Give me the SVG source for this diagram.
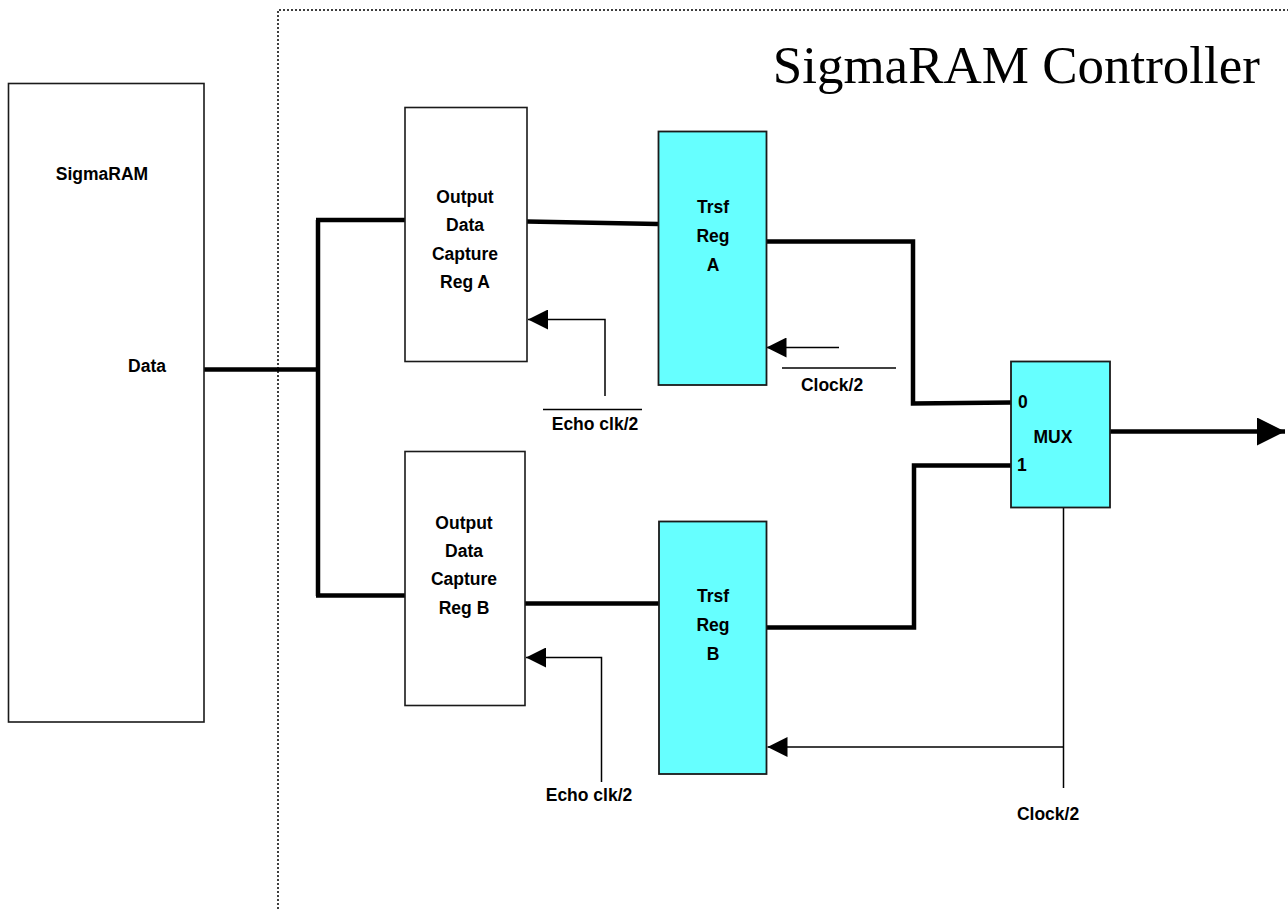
<svg xmlns="http://www.w3.org/2000/svg" width="1288" height="909" viewBox="0 0 1288 909">
<style>
.box{fill:#fff;stroke:#1a1a1a;stroke-width:1.6}
.reg{fill:#66ffff;stroke:#1a1a1a;stroke-width:1.8}
.lbl{font-family:"Liberation Sans",Arial,sans-serif;font-weight:bold;font-size:17.5px;fill:#000;text-anchor:middle}
.thick{fill:none;stroke:#000;stroke-width:4.5;stroke-linejoin:miter}
.thin{fill:none;stroke:#000;stroke-width:1.5}
.dot{fill:none;stroke:#000;stroke-width:1.5;stroke-dasharray:2,2}
</style>
<defs>
<marker id="ah" markerUnits="userSpaceOnUse" markerWidth="20" markerHeight="20" refX="20" refY="10" orient="auto">
<path d="M0,0 L20,10 L0,20 Z" fill="#000"/>
</marker>
<marker id="ahBig" markerUnits="userSpaceOnUse" markerWidth="28" markerHeight="28" refX="28" refY="14" orient="auto">
<path d="M0,0 L28,14 L0,28 Z" fill="#000"/>
</marker>
</defs>
<rect width="1288" height="909" fill="#fff"/>
<g id="controller-boundary">
<path class="dot" d="M278,909 L278,10 L1288,10"/>
<text x="1260" y="83" font-family="'Liberation Serif','Times New Roman',serif" font-size="53" text-anchor="end" fill="#000">SigmaRAM Controller</text>
</g>
<g id="connectors">
<path class="thick" d="M204,369.5 L318,369.5"/>
<path class="thick" d="M318,220 L318,596"/>
<path class="thick" d="M316,220 L405,220"/>
<path class="thick" d="M316,595.5 L405,595.5"/>
<path class="thick" d="M527,221.5 L658,224"/>
<path class="thick" d="M525,603.5 L659,603.5"/>
<path class="thick" d="M767,241.5 L913,241.5 L913,403.5 L1011,402.5"/>
<path class="thick" d="M767,627.5 L914,627.5 L914,465.5 L1011,465.5"/>
<path class="thick" d="M1110,431.5 L1285,431.5" marker-end="url(#ahBig)"/>
<path class="thin" d="M605,396 L605,319.5 L528,319.5" marker-end="url(#ah)"/>
<path class="thin" d="M543,409.5 L642,409.5"/>
<path class="thin" d="M601.5,782 L601.5,657.5 L526,657.5" marker-end="url(#ah)"/>
<path class="thin" d="M839,347.5 L766.5,347.5" marker-end="url(#ah)"/>
<path class="thin" d="M782,368 L896,368"/>
<path class="thin" d="M1063.5,507 L1063.5,788"/>
<path class="thin" d="M1063.5,747 L767.5,747" marker-end="url(#ah)"/>
<text class="lbl" x="595" y="430">Echo clk/2</text>
<text class="lbl" x="589" y="801">Echo clk/2</text>
<text class="lbl" x="832" y="391">Clock/2</text>
<text class="lbl" x="1048" y="820">Clock/2</text>
</g>
<g id="sigmaram">
<rect class="box" x="8.5" y="83.5" width="195.5" height="638.5"/>
<text class="lbl" x="102" y="180">SigmaRAM</text>
<text class="lbl" x="147" y="372">Data</text>
</g>
<g id="capture-reg-a">
<rect class="box" x="405" y="107.5" width="122" height="254"/>
<text class="lbl" x="465" y="203">Output</text>
<text class="lbl" x="465" y="231">Data</text>
<text class="lbl" x="465" y="259.5">Capture</text>
<text class="lbl" x="465" y="288">Reg A</text>
</g>
<g id="capture-reg-b">
<rect class="box" x="405" y="451.5" width="120" height="254"/>
<text class="lbl" x="464" y="529">Output</text>
<text class="lbl" x="464" y="557">Data</text>
<text class="lbl" x="464" y="585">Capture</text>
<text class="lbl" x="464" y="614">Reg B</text>
</g>
<g id="trsf-reg-a">
<rect class="reg" x="658.5" y="131.5" width="108" height="253.5"/>
<text class="lbl" x="713" y="213">Trsf</text>
<text class="lbl" x="713" y="242">Reg</text>
<text class="lbl" x="713" y="271">A</text>
</g>
<g id="trsf-reg-b">
<rect class="reg" x="659" y="521.5" width="107.5" height="252.5"/>
<text class="lbl" x="713" y="602">Trsf</text>
<text class="lbl" x="713" y="631">Reg</text>
<text class="lbl" x="713" y="660">B</text>
</g>
<g id="mux">
<rect class="reg" x="1011" y="361.5" width="99" height="146"/>
<text class="lbl" x="1018" y="408" text-anchor="start" style="text-anchor:start">0</text>
<text class="lbl" x="1017" y="471" style="text-anchor:start">1</text>
<text class="lbl" x="1053" y="443">MUX</text>
</g>
</svg>
